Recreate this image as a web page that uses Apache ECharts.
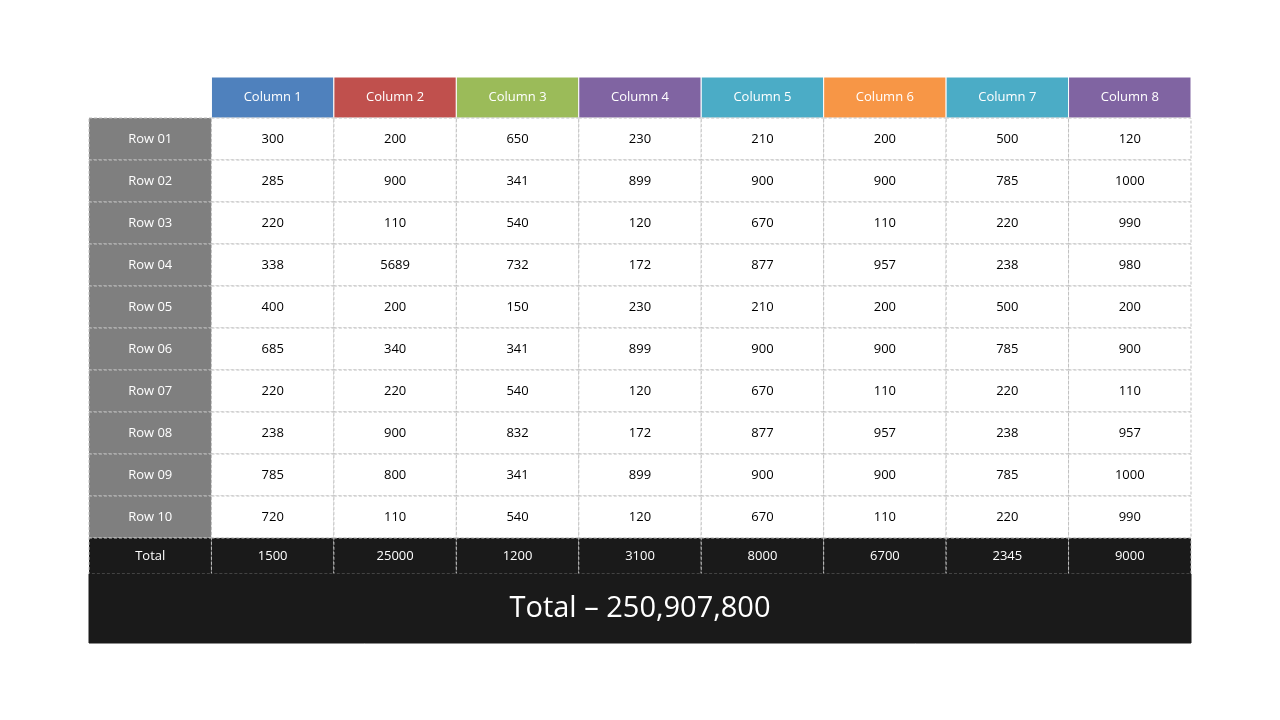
<!DOCTYPE html>
<html><head><meta charset="utf-8">
<script src="https://cdn.jsdelivr.net/npm/echarts@6/dist/echarts.min.js"></script>
<style>html,body{margin:0;background:#fff}#c{width:1280px;height:720px}</style>
</head><body><div id="c"></div>
<script>
const columns = ['Column 1','Column 2','Column 3','Column 4','Column 5','Column 6','Column 7','Column 8'];
const rows = ['Row 01','Row 02','Row 03','Row 04','Row 05','Row 06','Row 07','Row 08','Row 09','Row 10'];
const values = [
 [300,200,650,230,210,200,500,120],
 [285,900,341,899,900,900,785,1000],
 [220,110,540,120,670,110,220,990],
 [338,5689,732,172,877,957,238,980],
 [400,200,150,230,210,200,500,200],
 [685,340,341,899,900,900,785,900],
 [220,220,540,120,670,110,220,110],
 [238,900,832,172,877,957,238,957],
 [785,800,341,899,900,900,785,1000],
 [720,110,540,120,670,110,220,990]
];
const totals = [1500,25000,1200,3100,8000,6700,2345,9000];
const grandTotal = 'Total \u2013 250,907,800';

// layout (not data)
const headColors = ['#4F81BD','#C0504D','#9BBB59','#8064A2','#4BACC6','#F79646','#4BACC6','#8064A2'];
const bands = [41].concat(rows.map(()=>42)).concat([36,69]);
const starts = []; let acc=0; bands.forEach(h=>{starts.push(acc);acc+=h;});
const H = acc;

const cells = [];
columns.forEach((c,i)=>cells.push({x0:i+1,x1:i+2,r:0,text:c,kind:'head',color:headColors[i]}));
rows.forEach((r,j)=>{
  cells.push({x0:0,x1:1,r:j+1,text:r,kind:'rowlabel'});
  values[j].forEach((v,i)=>cells.push({x0:i+1,x1:i+2,r:j+1,text:String(v),kind:'cell'}));
});
cells.push({x0:0,x1:1,r:11,text:'Total',kind:'total'});
totals.forEach((v,i)=>cells.push({x0:i+1,x1:i+2,r:11,text:String(v),kind:'total'}));
cells.push({x0:0,x1:9,r:12,text:grandTotal,kind:'grand'});

const data = cells.map(c=>[c.x0,c.x1,starts[c.r],starts[c.r]+bands[c.r],c.text]);

function renderItem(params, api){
  const c = cells[params.dataIndex];
  const p0 = api.coord([api.value(0), api.value(2)]);
  const p1 = api.coord([api.value(1), api.value(3)]);
  const x=p0[0], y=p0[1], w=p1[0]-p0[0], h=p1[1]-p0[1];
  let fill='#fff', tc='#000', stroke='#BFBFBF', dash=[3,2], fs=13, lw=1;
  if(c.kind==='head'){fill=c.color;tc='#fff';stroke='#fff';dash=null;}
  if(c.kind==='rowlabel'){fill='#7F7F7F';tc='#fff';stroke='#BFBFBF';}
  if(c.kind==='total'){fill='#1A1A1A';tc='#fff';stroke='#BFBFBF';}
  if(c.kind==='grand'){fill='#1A1A1A';tc='#fff';stroke='#1A1A1A';dash=null;fs=29;}
  const children=[{type:'rect',shape:{x:x,y:y,width:w,height:h},style:{fill:fill,stroke:stroke,lineWidth:lw,lineDash:dash}},
   {type:'text',style:{text:c.text,x:x+w/2,y:y+h/2,align:'center',verticalAlign:'middle',fill:tc,font:fs+'px "Open Sans", sans-serif'}}];
  return {type:'group',children:children};
}

const chart = echarts.init(document.getElementById('c'));
chart.setOption({
  animation:false,
  grid:{left:89,right:89,top:77,bottom:77},
  xAxis:{type:'value',min:0,max:9,show:false},
  yAxis:{type:'value',min:0,max:H,inverse:true,show:false},
  series:[{type:'custom',renderItem:renderItem,data:data,encode:{x:[0,1],y:[2,3]}}]
});
// transparent top-left corner: remove rendering of cell(0,0) — none exists
</script></body></html>
